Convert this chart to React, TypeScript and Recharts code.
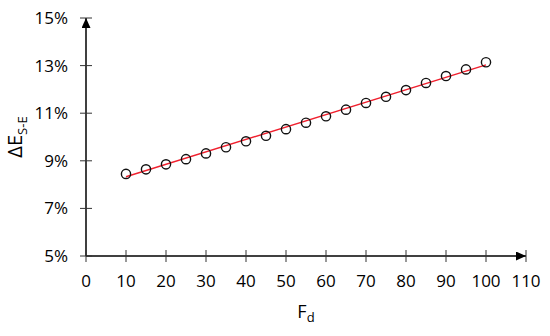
import React from "react";
import { ComposedChart, Line, Scatter, XAxis, YAxis, Label } from "recharts";

const fd = [10, 15, 20, 25, 30, 35, 40, 45, 50, 55, 60, 65, 70, 75, 80, 85, 90, 95, 100];
const deltaE = [8.45, 8.64, 8.85, 9.07, 9.31, 9.57, 9.82, 10.05, 10.33, 10.6, 10.87, 11.15, 11.43, 11.69, 11.97, 12.27, 12.56, 12.84, 13.14];
const fitX = [10, 100];
const fitY = [8.33, 13.03];
const xTicks = [0, 10, 20, 30, 40, 50, 60, 70, 80, 90, 100, 110];
const yTicks = [5, 7, 9, 11, 13, 15];

const points = fd.map((x, i) => ({ x, y: deltaE[i] }));
const fitLine = fitX.map((x, i) => ({ x, y: fitY[i] }));

const FONT = "'Open Sans', 'Liberation Sans', sans-serif";
const X_MARGIN = 19;
const Y_MARGIN = 18;
const HALF = 6;

const XTick = (props: any) => {
  const { x, y, payload } = props;
  const ay = y - X_MARGIN;
  return (
    <g>
      <line x1={x} x2={x} y1={ay - HALF} y2={ay + HALF} stroke="#333" strokeWidth={1} />
      <text x={x} y={y} dy="0.71em" textAnchor="middle" fontSize={17} fontFamily={FONT} fill="#000">
        {payload.value}
      </text>
    </g>
  );
};

const YTick = (props: any) => {
  const { x, y, payload } = props;
  const ax = x + Y_MARGIN;
  return (
    <g>
      <line x1={ax - HALF} x2={ax + HALF} y1={y} y2={y} stroke="#333" strokeWidth={1} />
      <text x={x} y={y} dy="0.355em" textAnchor="end" fontSize={17} fontFamily={FONT} fill="#000">
        {payload.value + "%"}
      </text>
    </g>
  );
};

const Circle = (props: any) => {
  const { cx, cy } = props;
  return <circle cx={cx} cy={cy} r={4.6} fill="none" stroke="#111" strokeWidth={1.4} />;
};

const XLabel = (props: any) => {
  const vb = props.viewBox || {};
  const cx = vb.x + vb.width / 2;
  const cy = 318;
  return (
    <text x={cx} y={cy} textAnchor="middle" fontSize={18} fontFamily={FONT} fill="#000">
      F<tspan fontSize={13} dy={4}>d</tspan>
    </text>
  );
};

const YLabel = (props: any) => {
  const cx = 22;
  const cy = 137;
  return (
    <text x={cx} y={cy} transform={`rotate(-90 ${cx} ${cy})`} textAnchor="middle" fontSize={20} fontFamily={FONT} fill="#000">
      ΔE<tspan fontSize={13} dy={5}>S-E</tspan>
    </text>
  );
};

export default function App() {
  return (
    <div style={{ position: "absolute", left: 0, top: 0, width: 550, height: 336, background: "#fff" }}>
      <svg width={0} height={0} style={{ position: "absolute" }}>
        <defs>
          <marker id="arrowHead" markerUnits="userSpaceOnUse" markerWidth={12} markerHeight={10} refX={10} refY={4.5} orient="auto-start-reverse">
            <path d="M0,0 L10,4.5 L0,9 z" fill="#000" />
          </marker>
        </defs>
      </svg>
      <ComposedChart width={550} height={336} margin={{ top: 18, right: 24, left: 26, bottom: 30 }}>
        <XAxis
          dataKey="x"
          type="number"
          domain={[0, 110]}
          ticks={xTicks}
          interval={0}
          height={50}
          tickSize={0}
          tickMargin={X_MARGIN}
          tickLine={false}
          tick={<XTick />}
          axisLine={{ stroke: "#000", strokeWidth: 1.5, markerEnd: "url(#arrowHead)" } as any}
          allowDataOverflow
        >
          <Label content={<XLabel />} />
        </XAxis>
        <YAxis
          dataKey="y"
          type="number"
          domain={[5, 15]}
          ticks={yTicks}
          interval={0}
          width={60}
          tickSize={0}
          tickMargin={Y_MARGIN}
          tickLine={false}
          tick={<YTick />}
          axisLine={{ stroke: "#000", strokeWidth: 1.5, markerStart: "url(#arrowHead)" } as any}
          allowDataOverflow
        >
          <Label content={<YLabel />} />
        </YAxis>
        <Line
          data={fitLine}
          dataKey="y"
          type="linear"
          stroke="#f0202e"
          strokeWidth={1.4}
          dot={false}
          activeDot={false}
          isAnimationActive={false}
        />
        <Scatter data={points} dataKey="y" shape={<Circle />} isAnimationActive={false} />
      </ComposedChart>
    </div>
  );
}
